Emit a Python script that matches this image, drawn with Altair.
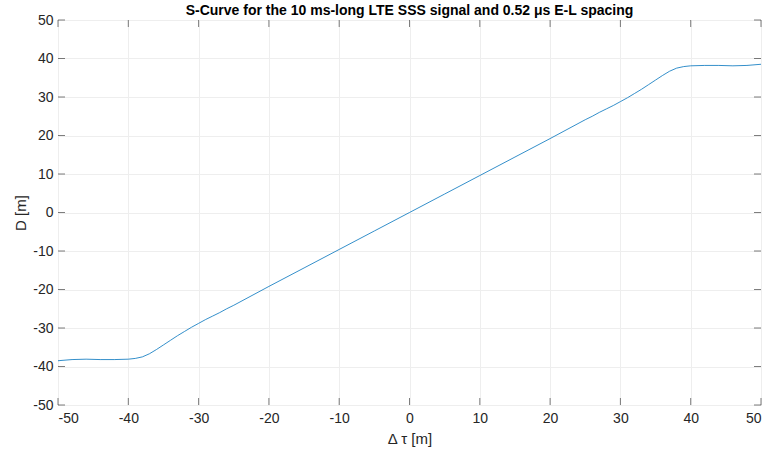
import altair as alt
import pandas as pd

tau = [-50, -48, -46, -44, -42, -40, -39, -38, -37, -36, -35, -34, -33, -32, -31, -30,
       -29, -28, -27, -26, -25, -20, -15, -10, -5, 0, 5, 10, 15, 20, 25, 26, 27, 28, 29,
       30, 31, 32, 33, 34, 35, 36, 37, 38, 39, 40, 42, 44, 46, 48, 50]
d = [-38.5, -38.2, -38.1, -38.2, -38.2, -38.1, -37.9, -37.5, -36.7, -35.6, -34.4, -33.2,
     -32.0, -30.9, -29.8, -28.8, -27.8, -26.9, -26.0, -25.0, -24.1, -19.2, -14.4, -9.6,
     -4.8, 0.0, 4.8, 9.6, 14.4, 19.2, 24.1, 25.0, 26.0, 26.9, 27.8, 28.8, 29.8, 30.9,
     32.0, 33.2, 34.4, 35.6, 36.7, 37.5, 37.9, 38.1, 38.2, 38.2, 38.1, 38.2, 38.5]
ticks = [-50, -40, -30, -20, -10, 0, 10, 20, 30, 40, 50]

df = pd.DataFrame({"tau": tau, "d": d})
tdf = pd.DataFrame({"t": ticks})

W, H = 703, 385
FONT = "Liberation Sans"
xs = alt.Scale(domain=[-50, 50], nice=False)
ys = alt.Scale(domain=[-50, 50], nice=False)
LBL = "replace(datum.label, '\u2212', '-')"

common = dict(values=ticks, grid=True, gridColor="#eeeeee", tickSize=0,
              labelFontSize=14, labelColor="#262626", labelOverlap=False,
              labelExpr=LBL, titleFontSize=15, titleColor="#262626",
              titleFontWeight="normal", domain=False, labelFont=FONT, titleFont=FONT)
xaxis = alt.Axis(labelPadding=6, titlePadding=6, **common)
yaxis = alt.Axis(labelPadding=5, titlePadding=4, **common)
XT = "Δ τ [m]"
YT = "D [m]"

line = alt.Chart(df).mark_line(color="#0072BD", strokeWidth=0.8).encode(
    x=alt.X("tau:Q", scale=xs, title=XT, axis=xaxis),
    y=alt.Y("d:Q", scale=ys, title=YT, axis=yaxis),
)

tk = dict(color="#262626", strokeWidth=0.6)
xb = alt.Chart(tdf).mark_rule(**tk).encode(
    x=alt.X("t:Q", scale=xs, title=XT, axis=xaxis), y=alt.value(H), y2=alt.value(H - 7))
xt = alt.Chart(tdf).mark_rule(**tk).encode(
    x=alt.X("t:Q", scale=xs, title=XT, axis=xaxis), y=alt.value(0), y2=alt.value(7))
yl = alt.Chart(tdf).mark_rule(**tk).encode(
    y=alt.Y("t:Q", scale=ys, title=YT, axis=yaxis), x=alt.value(0), x2=alt.value(7))
yr = alt.Chart(tdf).mark_rule(**tk).encode(
    y=alt.Y("t:Q", scale=ys, title=YT, axis=yaxis), x=alt.value(W), x2=alt.value(W - 7))

chart = alt.layer(line, xb, xt, yl, yr).properties(
    width=W, height=H,
    title=alt.TitleParams("S-Curve for the 10 ms-long LTE SSS signal and 0.52 μs E-L spacing",
                          fontSize=14, fontWeight="bold", font=FONT, color="#000000",
                          offset=-5),
    autosize=alt.AutoSizeParams(type="none"),
    padding={"left": 58, "top": 20, "right": 10, "bottom": 48},
).configure_view(stroke="#555555", strokeWidth=0.8).configure(
    background="white").configure_axis(labelOverlap=False)

chart.save("out.html", embed_options={"renderer": "svg", "actions": False})
